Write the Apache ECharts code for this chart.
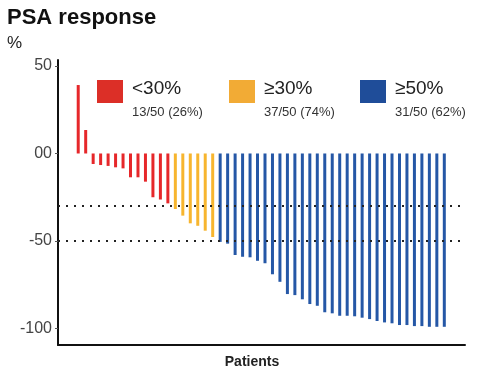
<!DOCTYPE html>
<html>
<head>
<meta charset="utf-8">
<script src="https://cdn.jsdelivr.net/npm/echarts@6/dist/echarts.min.js"></script>
<style>
  html, body { margin: 0; padding: 0; background: #fff; }
  #chart { width: 483px; height: 375px; }
</style>
</head>
<body>
<div id="chart"></div>
<script>
// PSA change from baseline (%) per patient, sorted, split by response group
var redVals = [39.1, 13.4, -6, -6.6, -7.1, -7.9, -8.5, -13.6, -13.6, -16.1, -25, -26.3, -28.5];
var orangeVals = [-31.7, -35.5, -39.9, -41.3, -44.1, -47.7];
var blueVals = [-50.5, -51.5, -58, -59, -59.3, -61.3, -62.7, -69, -73.3, -80.3, -80.9, -83.3,
  -86, -87, -90.7, -91.3, -92.7, -92.7, -93, -93.8, -94.6, -95.7, -96.5, -97, -98, -98,
  -98.6, -98.6, -99, -99, -99];
var yTicks = [50, 0, -50, -100];
var thresholds = [-30, -50];
var groups = [
  { label: "<30%", sub: "13/50 (26%)", color: "#dc2f27" },
  { label: "\u226530%", sub: "37/50 (74%)", color: "#f2ab35" },
  { label: "\u226550%", sub: "31/50 (62%)", color: "#1f4d99" }
];

// patient index runs 1..50 across the three groups
function toPoints(vals, start) {
  return vals.map(function(v, i) { return [start + i + 1, v]; });
}
var redData = toPoints(redVals, 0);
var orangeData = toPoints(orangeVals, redVals.length);
var blueData = toPoints(blueVals, redVals.length + orangeVals.length);

var chart = echarts.init(document.getElementById("chart"));

var legendGraphics = [];
var legendX = [97, 229, 360];
groups.forEach(function(g, i) {
  legendGraphics.push({
    type: "rect",
    shape: { x: legendX[i], y: 80, width: 26, height: 23 },
    style: { fill: g.color }
  });
  legendGraphics.push({
    type: "text",
    x: legendX[i] + 35, y: 79,
    style: { text: g.label, font: "19px 'Liberation Sans', Arial", fill: "#222" }
  });
  legendGraphics.push({
    type: "text",
    x: legendX[i] + 35, y: 106,
    style: { text: g.sub, font: "13px 'Liberation Sans', Arial", fill: "#333" }
  });
});

var option = {
  animation: false,
  grid: { left: 58, right: 18, top: 60, bottom: 30 },
  xAxis: {
    type: "value",
    min: -1.706,
    max: 52.77,
    axisLine: { show: true, onZero: false, lineStyle: { color: "#111", width: 2 } },
    axisTick: { show: false },
    axisLabel: { show: false },
    splitLine: { show: false }
  },
  yAxis: {
    type: "value",
    min: -109.4,
    max: 53.4,
    axisLine: { show: true, onZero: false, lineStyle: { color: "#111", width: 2 } },
    axisTick: { show: true, length: 3, customValues: yTicks, lineStyle: { color: "#555" } },
    axisLabel: {
      customValues: yTicks,
      margin: 6,
      fontSize: 16,
      fontFamily: "Liberation Sans",
      color: "#444",
      formatter: function(v) { return v === 0 ? "00" : v; }
    },
    splitLine: { show: false }
  },
  graphic: [
    {
      type: "text", x: 7, y: 7,
      style: { text: "PSA response", font: "bold 22px 'Liberation Sans', Arial", fill: "#111" }
    },
    {
      type: "text", x: 7, y: 35,
      style: { text: "%", font: "17px 'Liberation Sans', Arial", fill: "#222" }
    },
    {
      type: "text", x: 252, y: 362,
      style: { text: "Patients", font: "bold 14px 'Liberation Sans', Arial", fill: "#222", align: "center", verticalAlign: "middle" }
    }
  ].concat(legendGraphics),
  series: [
    {
      name: "<30%",
      type: "bar",
      barWidth: 3,
      data: redData,
      itemStyle: { color: "#e6272a" }
    },
    {
      name: "30-50%",
      type: "bar",
      barWidth: 3,
      barGap: "-100%",
      data: orangeData,
      itemStyle: { color: "#f7b52e" }
    },
    {
      name: ">=50%",
      type: "bar",
      barWidth: 3,
      barGap: "-100%",
      data: blueData,
      itemStyle: { color: "#2557a6" },
      markLine: {
        silent: true,
        symbol: "none",
        label: { show: false },
        lineStyle: { color: "#222", type: [2, 6], width: 2 },
        data: thresholds.map(function(t) { return { yAxis: t }; })
      }
    }
  ]
};
chart.setOption(option);
</script>
</body>
</html>
